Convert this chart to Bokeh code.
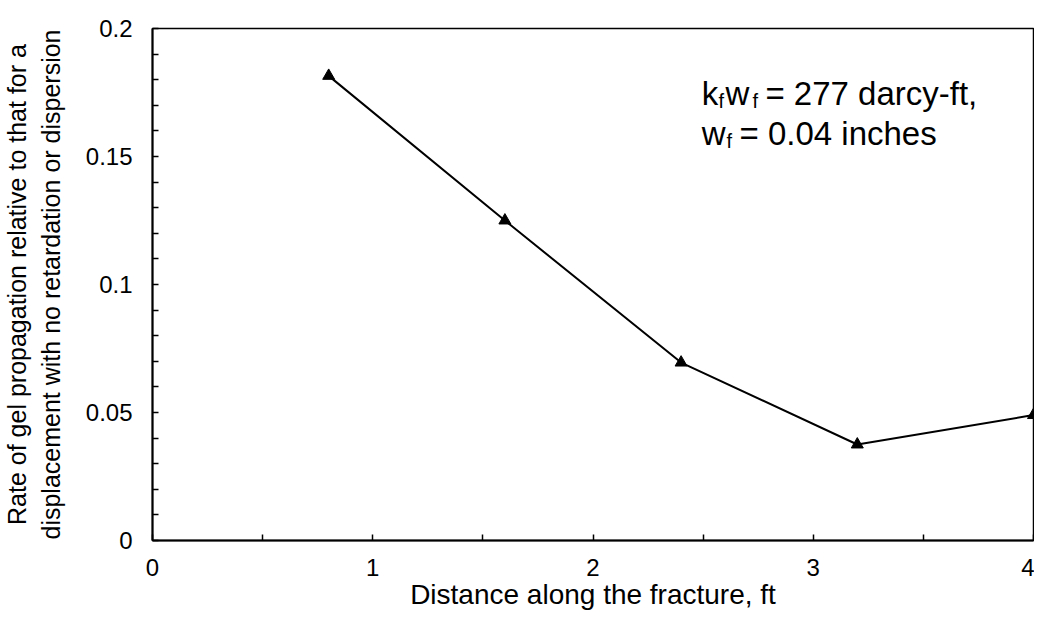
from bokeh.plotting import figure
from bokeh.models import ColumnDataSource, FixedTicker, Range1d, Label
from bokeh.embed import file_html
from bokeh.resources import INLINE

# ---- data ----
distance = [0.8, 1.6, 2.4, 3.2, 4.0]
rate = [0.1815, 0.125, 0.0695, 0.0375, 0.049]

x_ticks = [0, 1, 2, 3, 4]
x_tick_labels = ["0", "1", "2", "3", "4"]
y_ticks = [0, 0.05, 0.1, 0.15, 0.2]
y_tick_labels = ["0", "0.05", "0.1", "0.15", "0.2"]

x_label = "Distance along the fracture, ft"
y_label = "Rate of gel propagation relative to that for a\ndisplacement with no retardation or dispersion"

FONT = "Liberation Sans"

W, H = 1034, 615
LEFT, RIGHT, TOP, BOTTOM = 149, 1, 28, 75

p = figure(width=W, height=H, output_backend="svg", toolbar_location=None,
           x_range=Range1d(0, 4), y_range=Range1d(0, 0.2),
           min_border_left=LEFT, min_border_right=RIGHT, min_border_top=TOP,
           min_border_bottom=BOTTOM)
p.background_fill_color = "white"
p.border_fill_color = "white"
p.grid.visible = False
p.outline_line_color = "black"
p.outline_line_width = 1.5

src = ColumnDataSource(dict(x=distance, y=rate))
p.line("x", "y", source=src, line_color="black", line_width=2)
p.scatter("x", "y", source=src, marker="triangle", size=12, fill_color="black", line_color="black")

# axes
p.xaxis.ticker = FixedTicker(ticks=x_ticks, minor_ticks=[0.5, 1.5, 2.5, 3.5])
p.xaxis.major_label_overrides = {t: l for t, l in zip(x_ticks, x_tick_labels)}
p.yaxis.ticker = FixedTicker(ticks=y_ticks, minor_ticks=[i / 100 for i in range(1, 20) if i % 5])
p.yaxis.major_label_overrides = {t: l for t, l in zip(y_ticks, y_tick_labels)}

for ax in (p.xaxis, p.yaxis):
    ax.axis_line_color = "black"
    ax.axis_line_width = 2
    ax.major_tick_line_color = "black"
    ax.minor_tick_line_color = "black"
    ax.major_tick_line_width = 1.5
    ax.minor_tick_line_width = 1.5
    ax.major_tick_in = 6
    ax.major_tick_out = 0
    ax.minor_tick_in = 6
    ax.minor_tick_out = 0
    ax.major_label_text_font = FONT
    ax.major_label_text_color = "black"
    ax.major_label_text_font_size = "24px"
    ax.axis_label_text_font = FONT
    ax.axis_label_text_font_style = "normal"
    ax.axis_label_text_color = "black"

p.xaxis.major_label_standoff = 18
p.xaxis.axis_label = x_label
p.xaxis.axis_label_text_font_size = "28px"
p.xaxis.axis_label_standoff = 0

p.yaxis.major_label_standoff = 20
p.yaxis.axis_label = y_label
p.yaxis.axis_label_text_font_size = "25px"
p.yaxis.axis_label_standoff = 18

# annotation (k_f w_f = 277 darcy-ft, / w_f = 0.04 inches), placed by pixel position
FX0, FX1, FY0, FY1 = LEFT, W - RIGHT, TOP, H - BOTTOM

def px2x(px):
    return (px - FX0) / (FX1 - FX0) * 4.0

def py2y(py):
    return (FY1 - py) / (FY1 - FY0) * 0.2

pieces = [
    ("k", 700, 93, "33px"),
    ("f", 717, 100, "20px"),
    ("w", 724, 93, "33px"),
    ("f", 751, 100, "20px"),
    ("= 277 darcy-ft,", 764, 93, "33px"),
    ("w", 700, 133, "33px"),
    ("f", 725, 140, "20px"),
    ("= 0.04 inches", 738, 133, "33px"),
]
for txt, px, py, fs in pieces:
    p.add_layout(Label(x=px2x(px), y=py2y(py), text=txt, text_font=FONT,
                       text_font_size=fs, text_color="black",
                       text_baseline="alphabetic", text_align="left"))

open("out.html", "w").write(file_html(p, INLINE))
